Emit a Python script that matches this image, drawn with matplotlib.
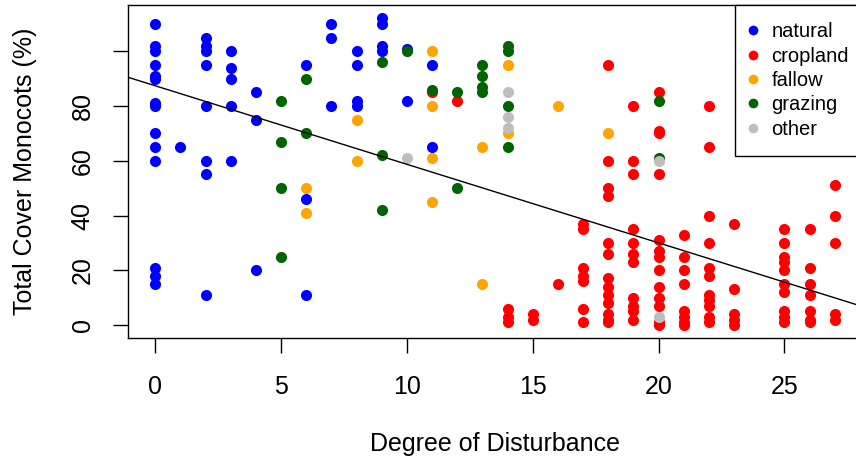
import numpy as np
import matplotlib
matplotlib.use("Agg")
import matplotlib.pyplot as plt
from matplotlib.lines import Line2D

plt.rcParams['font.family'] = ['Liberation Sans', 'DejaVu Sans']

# данные: степень нарушенности -> покрытие однодольными (%)
natural_x = [0]*14 + [1] + [2]*8 + [3]*5 + [4]*3 + [6]*3 + [7]*3 + [8]*4 + [9]*4 + [10]*2 + [11]*2
natural_y = [110, 102, 100, 95, 91, 90, 81, 80, 70, 65, 60, 21, 18, 15,
             65,
             105, 102, 100, 95, 80, 60, 55, 11,
             100, 94, 90, 80, 60,
             85, 75, 20,
             95, 46, 11,
             110, 105, 80,
             100, 95, 82, 80,
             112, 110, 102, 100,
             101, 82,
             95, 65]

cropland_x = ([11] + [12] + [14]*3 + [15]*2 + [16] + [17]*7 + [18]*13 + [19]*11 + [20]*13
              + [21]*8 + [22]*11 + [23]*5 + [25]*10 + [26]*7 + [27]*5)
cropland_y = [85,
              82,
              6, 3, 1,
              4, 2,
              15,
              37, 35, 21, 18, 16, 6, 1,
              95, 60, 50, 47, 30, 26, 17, 14, 11, 8, 4, 2, 1,
              80, 60, 55, 35, 30, 26, 23, 10, 7, 5, 2,
              85, 71, 70, 55, 31, 27, 25, 20, 14, 10, 7, 1, 0,
              33, 25, 20, 15, 5, 3, 1, 0,
              80, 65, 40, 30, 21, 18, 11, 9, 7, 3, 1,
              37, 13, 4, 2, 0,
              35, 30, 25, 23, 20, 15, 12, 5, 3, 1,
              35, 21, 15, 11, 5, 2, 1,
              51, 40, 30, 4, 2]

fallow_x = [6]*2 + [8]*2 + [11]*4 + [13]*2 + [14]*2 + [16] + [18]
fallow_y = [50, 41, 75, 60, 100, 80, 61, 45, 65, 15, 95, 70, 80, 70]

grazing_x = [5]*4 + [6]*2 + [9]*3 + [10] + [11] + [12]*2 + [13]*4 + [14]*4 + [20]*2
grazing_y = [82, 67, 50, 25, 90, 70, 96, 62, 42, 100, 86, 85, 50,
             95, 91, 87, 85, 102, 100, 80, 65, 82, 61]

other_x = [10] + [14]*3 + [20]*2
other_y = [61, 85, 76, 72, 60, 3]

# коэффициенты линии регрессии
fit_intercept = 87.4
fit_slope = -2.87

groups = ['natural', 'cropland', 'fallow', 'grazing', 'other']
colors = ['blue', 'red', 'orange', 'darkgreen', '#BEBEBE']
xs = [natural_x, cropland_x, fallow_x, grazing_x, other_x]
ys = [natural_y, cropland_y, fallow_y, grazing_y, other_y]

fig = plt.figure(figsize=(8.56, 4.62), dpi=100)
ax = fig.add_axes([128/856, 1 - 338/462, 734/856, 333/462])

for gx, gy, c in zip(xs, ys, colors):
    ax.scatter(gx, gy, s=64, color=c, linewidths=0, zorder=3)

ax.axline((0, fit_intercept), slope=fit_slope, color='black', linewidth=1.0, zorder=4)

ax.set_xlim(-1.08, 28.08)
ax.set_ylim(-4.75, 116.9)
ax.set_xticks([0, 5, 10, 15, 20, 25])
ax.set_yticks([0, 20, 40, 60, 80, 100])
ax.set_yticklabels(['0', '20', '40', '60', '80', ''])
ax.tick_params(axis='both', direction='out', length=11, width=1.0, labelsize=18)
ax.tick_params(axis='x', pad=15.5)
ax.tick_params(axis='y', pad=13, labelrotation=90)
for lbl in ax.get_yticklabels():
    lbl.set_va('center')
for sp in ax.spines.values():
    sp.set_linewidth(1.0)

fig.text(495/856, 1 - 444/462, 'Degree of Disturbance', ha='center', va='center', fontsize=18)
fig.text(25/856, 1 - 171/462, 'Total Cover Monocots (%)', ha='center', va='center',
         rotation=90, fontsize=18)

handles = [Line2D([], [], linestyle='none', marker='o', markersize=7, color=c,
                  markeredgewidth=0) for c in colors]
leg = ax.legend(handles, groups, loc='upper right', bbox_to_anchor=(1.0054, 1.0),
                borderaxespad=0, fancybox=False, edgecolor='black', framealpha=1,
                fontsize=14.5, labelspacing=0.27, handlelength=0.1,
                handletextpad=0.85, borderpad=0.85)
leg.get_frame().set_linewidth(1.0)

fig.savefig('out.png', dpi=100)
